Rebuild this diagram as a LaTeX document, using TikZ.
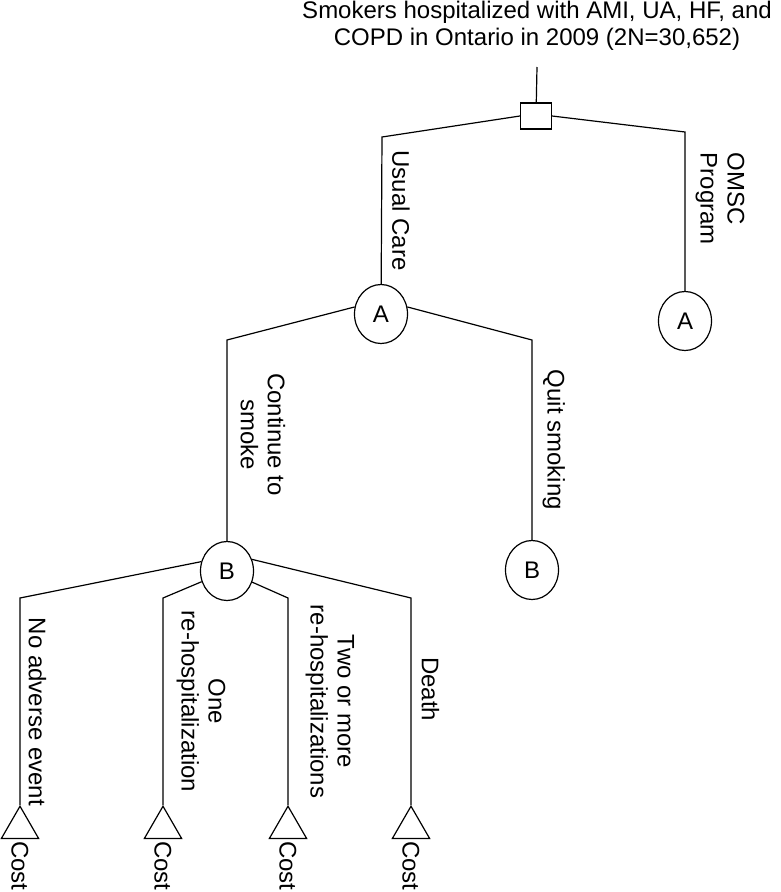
\documentclass[tikz,border=0pt]{standalone}
\usepackage{fontspec}
\setmainfont{Liberation Sans}
\usetikzlibrary{shapes.geometric}

\begin{document}
\begin{tikzpicture}[x=1pt, y=-1pt, line width=1.2pt, font=\fontsize{24}{27}\selectfont,
        chance/.style={draw, ellipse, minimum width=53pt, minimum height=59pt, inner sep=0pt},
        leaf/.style={draw, regular polygon, regular polygon sides=3, minimum size=43pt, inner sep=0pt, anchor=corner 1},
        lbl/.style={rotate=-90, anchor=south, align=center, inner xsep=0pt, inner ysep=10pt},
        cost/.style={rotate=-90, anchor=west, inner sep=1.5pt}]
        \useasboundingbox (0,0) rectangle (780,892);

        \node[align=center, anchor=north, inner sep=0pt] (title) at (537,0.5) {Smokers hospitalized with AMI, UA, HF, and\\COPD in Ontario in 2009 (2N=30,652)};
        \coordinate (top) at (537,67);
        \node[draw, rectangle, minimum width=31pt, minimum height=26pt, inner sep=0pt] (root) at (536,116) {};

        \coordinate (uc) at (382,137);
        \coordinate (om) at (685,132);
        \node[chance] (a1) at (381,314) {A};
        \node[chance] (a2) at (685,321) {A};

        \coordinate (cs) at (227,340);
        \coordinate (qs) at (532,340);
        \node[chance] (b1) at (227,571) {B};
        \node[chance] (b2) at (532,570) {B};

        \coordinate (e1) at (20,598);
        \coordinate (e2) at (163,598);
        \coordinate (e3) at (288,598);
        \coordinate (e4) at (411,598);
        \node[leaf] (t1) at (20,805) {};
        \node[leaf] (t2) at (163,805) {};
        \node[leaf] (t3) at (288,805) {};
        \node[leaf] (t4) at (411,805) {};
        \node[cost] (s1) at (t1.south) {Cost};
        \node[cost] (s2) at (t2.south) {Cost};
        \node[cost] (s3) at (t3.south) {Cost};
        \node[cost] (s4) at (t4.south) {Cost};

        \draw (top) -- (root);
        \draw (root.west) -- (uc) -- (a1) node[lbl, midway] {Usual Care};
        \draw (root.east) -- (om) -- (a2) node[lbl, pos=0.42, align=left] {OMSC\\Program};
        \draw (a1.165) -- (cs) -- (b1) node[lbl, pos=0.47, inner ysep=13pt] {Continue to\\smoke};
        \draw (a1.15) -- (qs) -- (b2) node[lbl, midway] {Quit smoking};
        \draw (b1.160) -- (e1) -- (t1) node[lbl, pos=0.55, inner ysep=8pt] {No adverse event};
        \draw (b1) -- (e2) -- (t2) node[lbl, midway, inner ysep=13pt] {One\\re-hospitalization};
        \draw (b1) -- (e3) -- (t3) node[lbl, midway, inner ysep=17pt] {Two or more\\re-hospitalizations};
        \draw (b1.25) -- (e4) -- (t4) node[lbl, pos=0.44] {Death};
    \end{tikzpicture}
\end{document}
